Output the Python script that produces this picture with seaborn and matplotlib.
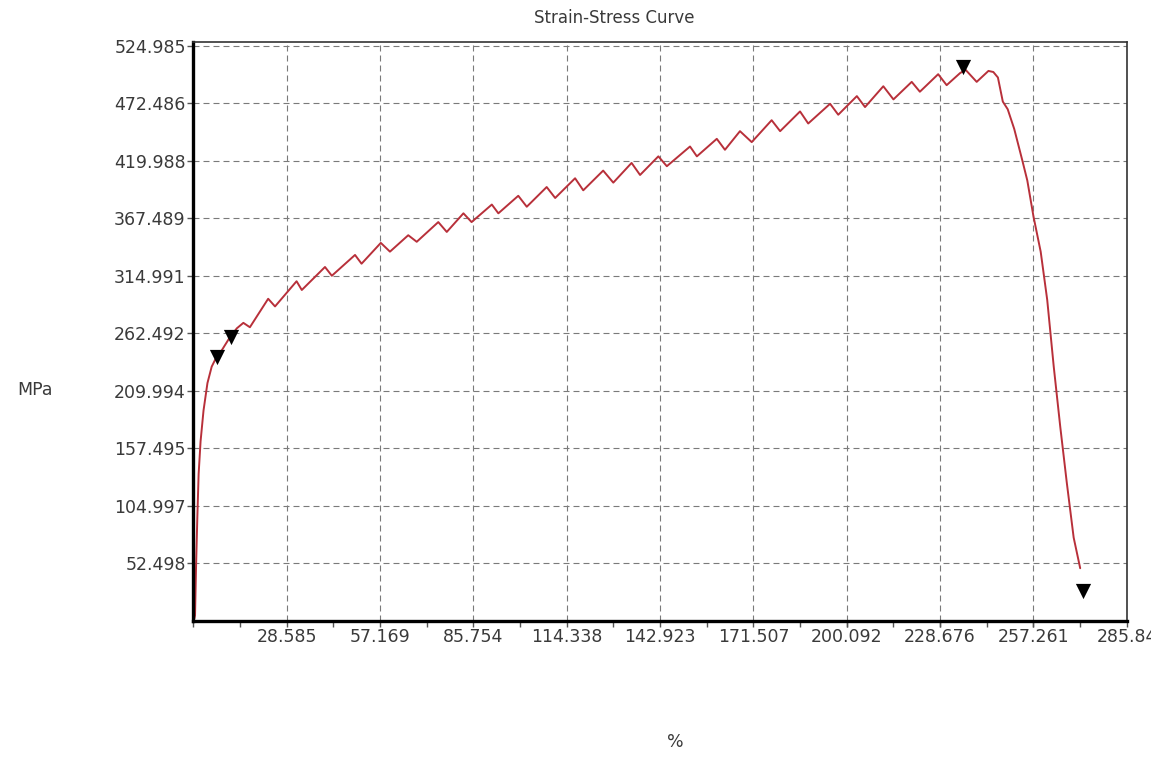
import matplotlib
matplotlib.use("Agg")
import matplotlib.pyplot as plt
import seaborn as sns
import pandas as pd
from matplotlib.ticker import AutoMinorLocator

# Strain (%) / stress (MPa)
strain = [0.3, 0.5, 0.8, 1.2, 1.6, 2.2, 3.1, 4.3, 5.6, 7.1, 8.7, 11.2, 13.3, 15.3, 17.3,
          22.9, 25.0, 31.6, 33.2, 40.3, 42.4, 49.5, 51.5, 57.4, 60.2, 65.8, 68.4,
          75.0, 77.6, 82.7, 85.2, 91.4, 93.4, 99.5, 102.1, 108.2, 110.8, 116.9, 119.4,
          125.5, 128.6, 134.2, 136.8, 142.4, 145.0, 152.1, 154.2, 160.3, 162.8, 167.4,
          171.0, 177.1, 179.7, 185.8, 188.3, 195.0, 197.5, 203.2, 205.7, 211.3, 214.4,
          220.0, 222.5, 228.1, 230.7, 234.8, 236.5, 239.9, 243.5, 245.0, 246.4, 247.9,
          249.4, 251.4, 253.9, 255.4, 257.3, 259.5, 261.5, 263.5, 265.5, 267.5, 269.6,
          271.6]
stress = [2, 5, 48, 94, 134, 164, 192, 217, 232, 241, 247, 259, 267, 272, 268,
          294, 287, 310, 302, 323, 315, 334, 326, 345, 337, 352, 346,
          364, 355, 372, 364, 380, 372, 388, 378, 396, 386, 404, 393,
          411, 400, 418, 407, 424, 415, 433, 424, 440, 430, 447,
          437, 457, 447, 465, 454, 472, 462, 479, 469, 488, 476,
          492, 483, 499, 489, 500, 503, 492, 502, 501, 496, 474,
          467, 449, 420, 402, 369, 337, 293, 232, 177, 126, 76,
          48]

# triangle markers
mark_strain = [7.1, 11.4, 235.8, 272.4]
mark_stress = [241, 259, 506, 27]

x_ticks = [28.585, 57.169, 85.754, 114.338, 142.923, 171.507, 200.092, 228.676, 257.261, 285.84]
x_labels = ["28.585", "57.169", "85.754", "114.338", "142.923", "171.507", "200.092",
            "228.676", "257.261", "285.84"]
y_ticks = [52.498, 104.997, 157.495, 209.994, 262.492, 314.991, 367.489, 419.988, 472.486, 524.985]
y_labels = ["52.498", "104.997", "157.495", "209.994", "262.492", "314.991", "367.489",
            "419.988", "472.486", "524.985"]

df = pd.DataFrame({"strain": strain, "stress": stress})
marks = pd.DataFrame({"strain": mark_strain, "stress": mark_stress})

sns.set_style("white")
plt.rcParams['font.family'] = ['DejaVu Sans']
txt = '#3a3a3a'

fig = plt.figure(figsize=(11.51, 7.57), dpi=100)
ax = fig.add_axes([0.16803, 0.17992, 0.81086, 0.76460])

sns.lineplot(data=df, x="strain", y="stress", sort=False, color='#b8303a', lw=1.4, ax=ax)
sns.scatterplot(data=marks, x="strain", y="stress", marker='v', s=120, color='black',
                edgecolor='black', linewidth=0, zorder=5, ax=ax)

ax.set_xlim(0, 285.845)
ax.set_ylim(0, 528.4)
ax.set_xticks(x_ticks)
ax.set_xticklabels(x_labels)
ax.set_yticks(y_ticks)
ax.set_yticklabels(y_labels)
ax.xaxis.set_minor_locator(AutoMinorLocator(2))

ax.grid(True, which='major', color='#7a7a7a', lw=0.8, ls=(0, (5.4, 3.6)))
ax.set_axisbelow(True)

ax.tick_params(axis='both', which='both', direction='out', length=4, width=1,
               color='#555555', labelcolor=txt, labelsize=12.5, pad=1.5,
               bottom=True, left=True)

for side in ['left', 'bottom']:
    ax.spines[side].set_linewidth(2.4)
    ax.spines[side].set_color('black')
for side in ['top', 'right']:
    ax.spines[side].set_linewidth(1.2)
    ax.spines[side].set_color('#333333')

ax.set_xlabel("")
ax.set_ylabel("")
fig.text(614 / 1151, 1 - 18 / 757, "Strain-Stress Curve", ha='center', va='center',
         fontsize=12, color=txt)
fig.text(35 / 1151, 1 - 390 / 757, "MPa", ha='center', va='center', fontsize=12.5, color=txt)
fig.text(675 / 1151, 1 - 742 / 757, "%", ha='center', va='center', fontsize=12.5, color=txt)

fig.savefig("out.png", dpi=100)
